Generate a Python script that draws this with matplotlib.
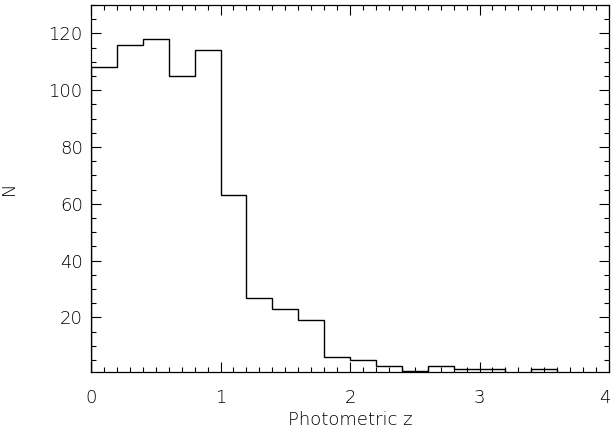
import numpy as np
import matplotlib.pyplot as plt
from matplotlib.ticker import MultipleLocator
from matplotlib.transforms import ScaledTranslation

plt.rcParams['font.family'] = ['DejaVu Sans']

# histogram of photometric redshifts, bin width 0.2
bin_edges = np.linspace(0, 4, 21)
counts = [108, 116, 118, 105, 114, 63, 27, 23, 19, 6,
          5, 3, 1, 3, 2, 2, 0, 2, 0, 0]
x_ticks = [0, 1, 2, 3, 4]
y_ticks = [20, 40, 60, 80, 100, 120]

fig = plt.figure(figsize=(6.12, 4.34), dpi=100)
ax = fig.add_axes([0.1487, 0.1429, 0.9951 - 0.1487, 0.9885 - 0.1429])

ax.stairs(counts, bin_edges, color='black', linewidth=1.0)

ax.set_xlim(0, 4)
ax.set_ylim(0.8, 130)
ax.set_xticks(x_ticks)
ax.set_yticks(y_ticks)
ax.xaxis.set_minor_locator(MultipleLocator(0.1))
ax.yaxis.set_minor_locator(MultipleLocator(5))
ax.tick_params(which='both', direction='in', top=True, right=True,
               labelsize=13, colors='black', width=0.8)
ax.tick_params(which='major', length=7)
ax.tick_params(axis='x', which='major', pad=12)
ax.tick_params(axis='y', which='major', pad=6)
ax.tick_params(which='minor', length=3.5)
xlabels = ax.get_xticklabels()
for lbl in xlabels + ax.get_yticklabels():
    lbl.set_fontweight(200)
# nudge the last x label so it stays inside the figure
xlabels[-1].set_transform(xlabels[-1].get_transform() +
                          ScaledTranslation(-4 / 100, 0, fig.dpi_scale_trans))
for s in ax.spines.values():
    s.set_linewidth(0.9)

ax.set_xlabel('Photometric z', fontsize=13, labelpad=3, fontweight=200)
ax.set_ylabel('N', fontsize=13, fontweight=200)
ax.yaxis.set_label_coords(-0.142, 0.5)

plt.savefig('out.png', dpi=100)
